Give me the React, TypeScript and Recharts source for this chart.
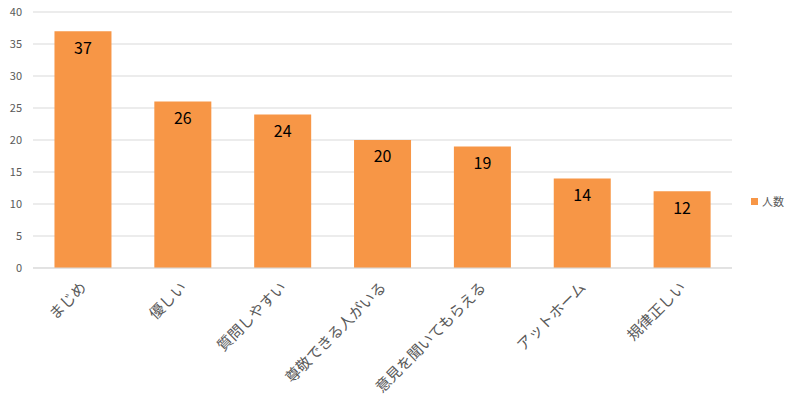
import { BarChart, Bar, XAxis, YAxis, CartesianGrid, LabelList } from "recharts";

const categories = ["まじめ", "優しい", "質問しやすい", "尊敬できる人がいる", "意見を聞いてもらえる", "アットホーム", "規律正しい"];
const counts = [37, 26, 24, 20, 19, 14, 12];
const yTicks = [0, 5, 10, 15, 20, 25, 30, 35, 40];

const data = categories.map((name, i) => ({ name, count: counts[i] }));

const FONT = "'Noto Sans CJK JP', 'Noto Sans', sans-serif";
const axisColor = "#595959";
const gridColor = "#D9D9D9";
const barColor = "#F79646";

const XTick = ({ x, y, payload }: any) => (
  <g transform={`translate(${x - 4},${y + 4})`}>
    <text
      transform="rotate(-45)"
      textAnchor="end"
      dy="0.8em"
      fontSize={15}
      fill={axisColor}
      fontFamily={FONT}
    >
      {payload.value}
    </text>
  </g>
);

export default function App() {
  return (
    <div style={{ position: "fixed", left: 0, top: 0, width: 800, height: 400, background: "#fff" }}>
      <BarChart
        width={800}
        height={400}
        data={data}
        margin={{ top: 12, right: 68, bottom: 0, left: 0 }}
        barCategoryGap="21.5%"
      >
        <CartesianGrid vertical={false} stroke={gridColor} />
        <XAxis
          dataKey="name"
          height={132}
          interval={0}
          tickLine={false}
          axisLine={{ stroke: gridColor }}
          tick={<XTick />}
        />
        <YAxis
          width={33}
          domain={[0, 40]}
          ticks={yTicks}
          tickLine={false}
          axisLine={false}
          tickMargin={5}
          tick={{ fontSize: 11, fill: axisColor, fontFamily: FONT }}
        />
        <Bar dataKey="count" name="人数" fill={barColor} isAnimationActive={false}>
          <LabelList
            dataKey="count"
            position="insideTop"
            offset={11}
            fill="#000"
            fontSize={16}
            fontFamily={FONT}
          />
        </Bar>
      </BarChart>
      <div
        style={{
          position: "absolute",
          left: 751,
          top: 193,
          display: "flex",
          alignItems: "center",
          fontFamily: FONT,
          fontSize: 11,
          color: axisColor,
        }}
      >
        <span style={{ width: 7, height: 7, background: barColor, display: "inline-block", marginRight: 4 }} />
        人数
      </div>
    </div>
  );
}
